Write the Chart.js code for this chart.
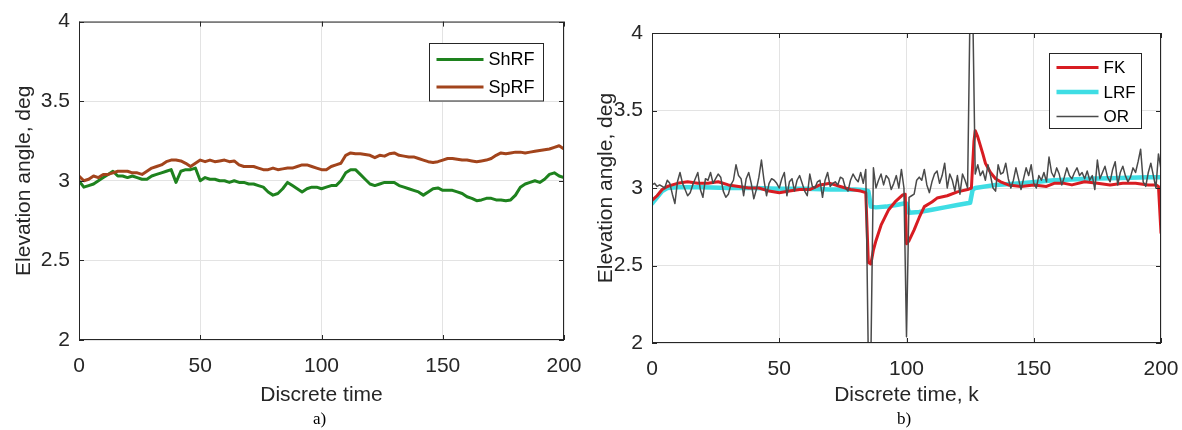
<!DOCTYPE html>
<html>
<head>
<meta charset="utf-8">
<script src="https://cdn.jsdelivr.net/npm/chart.js@4.4.1/dist/chart.umd.min.js"></script>
<style>
  html, body { margin: 0; padding: 0; background: #fff; }
  #wrap { position: relative; width: 1182px; height: 430px; overflow: hidden; }
  canvas { position: absolute; top: 0; }
  .cap { position: absolute; top: 409px; font: 17px "Liberation Serif", "Times New Roman", serif; color: #000; }
</style>
</head>
<body>
<div id="wrap">
  <canvas id="chartA" width="590" height="430" style="left:0"></canvas>
  <canvas id="chartB" width="592" height="430" style="left:590px"></canvas>
  <div class="cap" style="left:313px">a)</div>
  <div class="cap" style="left:897px">b)</div>
</div>
<script>
(function () {
    'use strict';

    // ---- panel a) : every 2 steps
    const timeA = Array.from({ length: 101 }, (_, i) => i * 2);
    const shrf = [
        3.00, 2.96, 2.97, 2.98, 3.00, 3.02, 3.04, 3.06, 3.03, 3.03,
        3.02, 3.03, 3.02, 3.01, 3.01, 3.03, 3.04, 3.05, 3.06, 3.07,
        2.99, 3.06, 3.07, 3.07, 3.08, 3.00, 3.02, 3.01, 3.01, 3.00,
        3.00, 2.99, 3.00, 2.99, 2.99, 2.98, 2.98, 2.97, 2.96, 2.93,
        2.91, 2.92, 2.95, 2.99, 2.97, 2.95, 2.93, 2.95, 2.96, 2.96,
        2.95, 2.96, 2.97, 2.97, 3.00, 3.05, 3.07, 3.07, 3.04, 3.01,
        2.98, 2.97, 2.98, 2.99, 2.99, 2.99, 2.97, 2.96, 2.95, 2.94,
        2.93, 2.91, 2.93, 2.95, 2.955, 2.94, 2.94, 2.94, 2.93, 2.92,
        2.90, 2.89, 2.875, 2.88, 2.89, 2.89, 2.88, 2.88, 2.875, 2.88,
        2.91, 2.96, 2.98, 2.99, 3.00, 2.99, 3.01, 3.04, 3.05, 3.03,
        3.02
    ];
    const sprf = [
        3.03, 3.00, 3.01, 3.03, 3.02, 3.04, 3.04, 3.05, 3.06, 3.06,
        3.06, 3.05, 3.05, 3.04, 3.06, 3.08, 3.09, 3.10, 3.12, 3.13,
        3.13, 3.125, 3.11, 3.09, 3.11, 3.13, 3.12, 3.13, 3.12, 3.125,
        3.13, 3.12, 3.125, 3.10, 3.09, 3.09, 3.09, 3.08, 3.07, 3.07,
        3.08, 3.07, 3.075, 3.08, 3.08, 3.09, 3.10, 3.10, 3.09, 3.08,
        3.07, 3.07, 3.09, 3.10, 3.11, 3.16, 3.175, 3.17, 3.17, 3.165,
        3.16, 3.145, 3.16, 3.155, 3.17, 3.175, 3.16, 3.155, 3.15, 3.15,
        3.14, 3.13, 3.12, 3.115, 3.12, 3.13, 3.14, 3.14, 3.135, 3.13,
        3.13, 3.125, 3.12, 3.125, 3.13, 3.14, 3.16, 3.175, 3.17, 3.175,
        3.18, 3.18, 3.175, 3.18, 3.185, 3.19, 3.195, 3.20, 3.21, 3.22,
        3.20
    ];

    // ---- panel b)
    const timeOR = Array.from({ length: 201 }, (_, i) => i);
    const orVals = [
        3.02, 3.03, 3.01, 3.02, 3.01, 3.00, 3.05, 3.03, 2.96, 2.90,
        3.04, 3.10, 3.03, 2.99, 2.95, 2.97, 3.02, 3.06, 3.10, 2.99,
        2.94, 3.06, 3.05, 3.10, 3.03, 3.06, 3.09, 3.07, 2.98, 2.94,
        2.96, 3.02, 3.05, 3.15, 3.08, 3.06, 2.95, 3.06, 3.10, 3.03,
        2.93, 2.99, 3.07, 3.18, 3.05, 2.95, 3.03, 3.06, 3.05, 3.03,
        3.00, 3.06, 3.10, 2.95, 3.04, 3.06, 2.98, 3.05, 3.08, 3.03,
        2.98, 2.95, 3.09, 3.01, 3.00, 3.04, 3.05, 2.94, 3.05, 3.10,
        3.01, 3.03, 3.04, 3.02, 3.07, 3.06, 3.00, 2.98, 3.05, 3.09,
        3.06, 3.04, 3.10, 3.03, 3.12, 1.90, 1.90, 3.13, 3.00, 3.05,
        3.09, 3.02, 3.08, 3.06, 2.99, 3.03, 3.08, 3.00, 3.12, 3.00,
        2.04, 2.94, 2.95, 2.96, 3.05, 3.07, 3.05, 3.12, 3.02, 2.97,
        3.04, 3.09, 3.11, 3.03, 3.08, 3.16, 3.00, 3.09, 3.05, 2.98,
        3.08, 2.96, 3.09, 3.05, 3.00, 4.20, 4.20, 3.09, 3.15, 3.08,
        3.11, 3.05, 3.15, 3.08, 3.00, 2.98, 3.15, 3.09, 3.10, 3.16,
        3.06, 3.00, 3.05, 3.13, 3.06, 2.99, 3.06, 3.13, 3.08, 3.15,
        3.03, 3.00, 3.08, 3.05, 3.10, 3.04, 3.20, 3.10, 3.07, 3.13,
        3.09, 3.02, 3.07, 3.13, 3.08, 3.06, 3.10, 3.13, 3.08, 3.10,
        3.06, 3.11, 3.05, 3.08, 2.99, 3.18, 3.06, 3.10, 3.14, 3.07,
        3.04, 3.12, 3.17, 3.02, 3.10, 3.14, 3.08, 3.04, 3.07, 3.13,
        3.10, 3.17, 3.25, 3.04, 3.01, 3.10, 3.16, 3.08, 3.00, 3.22,
        3.12
    ];
    const timeFK = [0, 2, 4, 6, 8, 10, 14, 18, 22, 26, 30, 34, 38, 42, 46, 50, 54, 58, 62, 66, 70, 74, 78, 82, 84,
        85, 86, 87, 88, 89, 90, 91.5, 93, 95.5, 98.5, 99.5, 100, 101, 103, 105, 107, 110, 112, 116, 120, 124,
        125.5, 126.5, 127, 128, 130, 131, 133, 135, 137, 140, 145, 150, 155, 158, 162, 165, 170, 175, 180,
        185, 190, 195, 198, 199, 200];
    const fk = [2.92, 2.95, 2.99, 3.01, 3.02, 3.03, 3.04, 3.03, 3.03, 3.04, 3.02, 3.01, 3.00, 3.00, 2.98, 2.97,
        2.98, 2.99, 2.99, 3.02, 3.03, 3.01, 2.99, 2.98, 2.97,
        2.52, 2.51, 2.60, 2.66, 2.71, 2.76, 2.81, 2.86, 2.91, 2.955, 2.96, 2.64, 2.66, 2.73, 2.81, 2.88,
        2.91, 2.935, 2.95, 2.975, 2.99, 3.00, 3.30, 3.37, 3.33, 3.22, 3.16, 3.10, 3.06, 3.04, 3.02, 3.01,
        3.02, 3.01, 3.03, 3.03, 3.02, 3.04, 3.03, 3.02, 3.03, 3.03, 3.02, 3.02, 3.01, 2.71];
    const timeLRF = [0, 2, 4, 6, 10, 20, 30, 40, 50, 60, 70, 80, 84, 85, 86, 88, 92, 96, 99, 100, 101, 105,
        110, 115, 120, 125, 126, 127, 135, 145, 158, 171, 184, 195, 200];
    const lrf = [2.90, 2.94, 2.98, 3.00, 3.005, 3.005, 3.00, 3.00, 2.995, 2.995, 2.99, 2.99, 2.985, 2.98,
        2.88, 2.875, 2.88, 2.89, 2.90, 2.90, 2.84, 2.845, 2.86, 2.875, 2.89, 2.905, 2.99, 3.00, 3.02,
        3.03, 3.05, 3.06, 3.065, 3.07, 3.07];

    const xTicks = [0, 50, 100, 150, 200];
    const yTicks = [2, 2.5, 3, 3.5, 4];

    const AXIS = '#262626';
    const FONT = "'Liberation Sans', Arial, sans-serif";

    function pairs(xs, ys) {
        return xs.map((x, i) => ({ x: x, y: ys[i] }));
    }

    // MATLAB-like box, inward ticks and boxed legend inside the axes
    const matlabBox = {
        id: 'matlabBox',
        afterDatasetsDraw(chart, args, o) {
            const { ctx, chartArea: a, scales } = chart;
            ctx.save();
            ctx.strokeStyle = AXIS;
            ctx.lineWidth = 1;
            ctx.beginPath();
            xTicks.forEach(v => {
                const px = Math.round(scales.x.getPixelForValue(v)) + 0.5;
                ctx.moveTo(px, a.bottom); ctx.lineTo(px, a.bottom - 5);
                ctx.moveTo(px, a.top); ctx.lineTo(px, a.top + 5);
            });
            yTicks.forEach(v => {
                const py = Math.round(scales.y.getPixelForValue(v)) + 0.5;
                ctx.moveTo(a.left, py); ctx.lineTo(a.left + 5, py);
                ctx.moveTo(a.right, py); ctx.lineTo(a.right - 5, py);
            });
            ctx.stroke();
            ctx.strokeRect(a.left + 0.5, a.top + 0.5, a.right - a.left - 1, a.bottom - a.top - 1);

            // legend
            const h = o.first + o.gap * (o.items.length - 1) + o.last;
            const bx = Math.round(a.right - o.right - o.width) + 0.5;
            const by = Math.round(a.top + o.top) + 0.5;
            ctx.fillStyle = '#fff';
            ctx.fillRect(bx, by, o.width, h);
            ctx.strokeStyle = AXIS;
            ctx.strokeRect(bx, by, o.width, h);
            ctx.font = o.fontSize + 'px ' + FONT;
            ctx.textBaseline = 'middle';
            o.items.forEach((it, i) => {
                const yy = by + o.first + i * o.gap;
                ctx.strokeStyle = it.color;
                ctx.lineWidth = it.width;
                ctx.beginPath();
                ctx.moveTo(bx + 7, yy);
                ctx.lineTo(bx + 7 + o.lineLen, yy);
                ctx.stroke();
                ctx.fillStyle = '#000';
                ctx.fillText(it.label, bx + o.textX, yy + 1);
            });
            ctx.restore();
        }
    };

    function axes(yWidth, xHeight, xTitle, yTitlePad) {
        const tickFont = { family: FONT, size: 21 };
        return {
            x: {
                type: 'linear', min: 0, max: 200,
                afterBuildTicks: s => { s.ticks = xTicks.map(v => ({ value: v })); },
                afterFit: s => { s.height = xHeight; s.paddingLeft = 0; s.paddingRight = 0; },
                grid: { color: '#e3e3e3', drawTicks: false },
                border: { display: false },
                ticks: { color: AXIS, font: tickFont, padding: 14, maxRotation: 0, callback: v => String(v) },
                title: { display: true, text: xTitle, color: AXIS, font: { family: FONT, size: 21 }, padding: { top: 0, bottom: 22 } }
            },
            y: {
                type: 'linear', min: 2, max: 4,
                afterBuildTicks: s => { s.ticks = yTicks.map(v => ({ value: v })); },
                afterFit: s => { s.width = yWidth; },
                grid: { color: '#e3e3e3', drawTicks: false },
                border: { display: false },
                ticks: { color: AXIS, font: tickFont, padding: 9, callback: v => String(v) },
                title: { display: true, text: 'Elevation angle, deg', color: AXIS, font: { family: FONT, size: 21 }, padding: { top: yTitlePad, bottom: 0 } }
            }
        };
    }

    function lineSet(label, data, color, width) {
        return {
            label: label, data: data, borderColor: color, borderWidth: width,
            pointRadius: 0, tension: 0, fill: false,
            borderJoinStyle: 'round', borderCapStyle: 'round'
        };
    }

    const common = {
        responsive: false,
        animation: false,
        events: [],
        plugins: { legend: { display: false }, tooltip: { enabled: false } }
    };

    new Chart(document.getElementById('chartA'), {
        type: 'line',
        data: {
            datasets: [
                lineSet('SpRF', pairs(timeA, sprf), '#a2441c', 3),
                lineSet('ShRF', pairs(timeA, shrf), '#1e821e', 3)
            ]
        },
        options: Object.assign({}, common, {
            layout: { padding: { left: 0, top: 18, right: 26, bottom: 0 } },
            scales: axes(79, 90, 'Discrete time', 12),
            plugins: Object.assign({}, common.plugins, {
                matlabBox: {
                    right: 21, top: 21, width: 114, first: 16, gap: 27.5, last: 14,
                    lineLen: 47, textX: 59, fontSize: 18,
                    items: [
                        { label: 'ShRF', color: '#1e821e', width: 3 },
                        { label: 'SpRF', color: '#a2441c', width: 3 }
                    ]
                }
            })
        }),
        plugins: [matlabBox]
    });

    new Chart(document.getElementById('chartB'), {
        type: 'line',
        data: {
            datasets: [
                lineSet('OR', pairs(timeOR, orVals), '#4a4a4a', 1.5),
                lineSet('FK', pairs(timeFK, fk), '#d81c22', 3),
                lineSet('LRF', pairs(timeLRF, lrf), '#3fdde4', 4.5)
            ]
        },
        options: Object.assign({}, common, {
            layout: { padding: { left: 0, top: 33, right: 21, bottom: 0 } },
            scales: axes(62, 87, 'Discrete time, k', 4),
            plugins: Object.assign({}, common.plugins, {
                matlabBox: {
                    right: 20, top: 20, width: 92, first: 14, gap: 24.5, last: 12,
                    lineLen: 42, textX: 54, fontSize: 17,
                    items: [
                        { label: 'FK', color: '#d81c22', width: 3 },
                        { label: 'LRF', color: '#3fdde4', width: 4.5 },
                        { label: 'OR', color: '#4a4a4a', width: 1.5 }
                    ]
                }
            })
        }),
        plugins: [matlabBox]
    });
})();
</script>
</body>
</html>
